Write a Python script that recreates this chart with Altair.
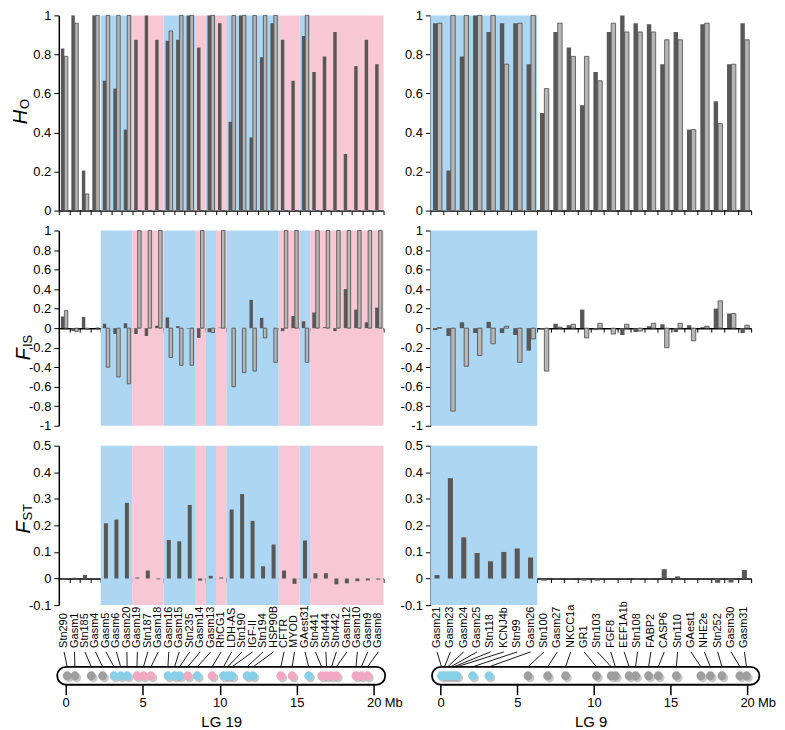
import altair as alt
import pandas as pd

# ---------------- data: LG 19 ----------------
lg19_markers = ["Stn290", "Gasm1", "Stn185", "Gasm4", "Gasm5", "Gasm6", "Gasm20", "Gasm19",
                "Stn187", "Gasm18", "Gasm16", "Gasm15", "Stn235", "Gasm14", "Gasm13", "RhCG1",
                "LDH-AS", "Stn190", "IGF-II", "Stn194", "HSP90B", "CFTR", "MYOD", "GAest31",
                "Stn441", "Stn444", "Stn442", "Gasm12", "Gasm10", "Gasm9", "Gasm8"]
lg19_group = ["n", "n", "n", "n", "b", "b", "b", "p", "p", "p", "b", "b", "b", "p", "b", "p",
              "b", "b", "b", "b", "b", "p", "p", "b", "p", "p", "p", "p", "p", "p", "p"]
lg19_mb = [0.1, 0.6, 1.66, 2.4, 3.14, 3.57, 3.99, 4.63, 5.05, 5.54, 6.64, 7.07, 7.39, 7.92,
           8.55, 9.51, 10.25, 10.52, 10.8, 11.78, 12.17, 13.97, 14.71, 15.78, 16.62, 16.94,
           17.26, 17.58, 18.85, 19.2, 19.6]
lg19_ho_dark = [0.83, 1.0, 0.205, 1.0, 0.665, 0.625, 0.415, 0.875, 1.0, 0.875, 0.87, 0.875,
                1.0, 0.835, 1.0, 0.96, 0.455, 1.0, 0.375, 0.785, 0.96, 0.875, 0.665, 0.895,
                0.71, 0.79, 0.915, 0.29, 0.74, 0.875, 0.75]
lg19_ho_light = [0.79, 0.96, 0.085, 1.0, 1.0, 1.0, 1.0, 0.0, 0.0, 0.0, 0.92, 1.0, 1.0, 0.0,
                 1.0, 0.0, 1.0, 1.0, 1.0, 1.0, 1.0, 0.0, 0.0, 1.0, 0.0, 0.0, 0.0, 0.0, 0.0,
                 0.0, 0.0]
lg19_fis_dark = [0.12, -0.03, 0.115, 0.0, 0.045, -0.06, 0.05, -0.06, -0.08, 0.025, 0.11, 0.02,
                 -0.005, -0.1, -0.04, 0.005, 0.0, 0.0, 0.29, 0.105, 0.0, -0.03, 0.125, 0.07,
                 0.16, 0.01, -0.03, 0.4, 0.19, 0.06, 0.21]
lg19_fis_light = [0.18, -0.035, -0.01, 0.0, -0.4, -0.5, -0.57, 1.0, 1.0, 1.0, -0.3, -0.38,
                  -0.38, 1.0, -0.045, 1.0, -0.6, -0.455, -0.44, -0.1, -0.35, 1.0, 1.0, -0.35,
                  1.0, 1.0, 1.0, 1.0, 1.0, 1.0, 1.0]
lg19_fst = [-0.005, 0.003, 0.013, 0.0, 0.208, 0.222, 0.285, 0.004, 0.03, -0.003, 0.145, 0.14,
            0.277, -0.008, 0.01, 0.004, 0.26, 0.318, 0.217, 0.046, 0.128, 0.03, -0.02, 0.143,
            0.02, 0.02, -0.022, -0.018, -0.01, -0.007, -0.004]
lg19_extent = [-0.55, 20.75]

# ---------------- data: LG 9 ----------------
lg9_markers = ["Gasm21", "Gasm23", "Gasm24", "Gasm25", "Stn118", "KCNJ4b", "Stn99", "Gasm26",
               "Stn100", "Gasm27", "NKCC1a", "GR1", "Stn103", "FGF8", "EEF1A1b", "Stn108",
               "FABP2", "CASP6", "Stn110", "GAest1", "NHE2e", "Stn252", "Gasm30", "Gasm31"]
lg9_group = ["b", "b", "b", "b", "b", "b", "b", "b", "n", "n", "n", "n", "n", "n", "n", "n",
             "n", "n", "n", "n", "n", "n", "n", "n"]
lg9_mb = [0.05, 0.25, 0.45, 0.65, 0.85, 1.05, 2.08, 3.15, 5.7, 6.98, 8.15, 10.17, 11.13, 11.4,
          12.3, 12.72, 13.57, 14.2, 15.38, 16.98, 17.6, 18.36, 19.53, 19.96]
lg9_ho_dark = [0.96, 0.205, 0.79, 1.0, 0.915, 0.96, 0.96, 0.75, 0.5, 0.915, 0.835, 0.54, 0.71,
               0.915, 1.0, 0.96, 0.955, 0.75, 0.915, 0.415, 0.955, 0.56, 0.75, 0.96]
lg9_ho_light = [0.96, 1.0, 1.0, 1.0, 1.0, 0.75, 0.96, 1.0, 0.625, 0.96, 0.79, 0.79, 0.665,
                0.96, 0.915, 0.915, 0.915, 0.875, 0.875, 0.415, 0.96, 0.445, 0.75, 0.875]
lg9_fis_dark = [-0.02, -0.08, 0.06, -0.05, 0.065, -0.05, -0.07, -0.23, -0.01, 0.045, 0.03,
                0.19, -0.02, 0.0, -0.07, -0.04, 0.02, 0.04, -0.04, 0.03, 0.01, 0.2, 0.15, -0.05]
lg9_fis_light = [0.005, -0.85, -0.39, -0.28, -0.16, 0.02, -0.35, -0.11, -0.44, 0.01, 0.04,
                 -0.1, 0.05, -0.06, 0.04, -0.03, 0.05, -0.2, 0.05, -0.13, 0.02, 0.28, 0.15, 0.03]
lg9_fst = [0.013, 0.378, 0.155, 0.096, 0.065, 0.1, 0.113, 0.079, -0.008, -0.003, 0.002, -0.008,
           -0.008, 0.0, 0.002, -0.004, -0.002, 0.035, 0.008, 0.0, 0.0, -0.016, -0.015, 0.032]
lg9_extent = [-0.57, 20.8]

ho_ticks = [0, 0.2, 0.4, 0.6, 0.8, 1]
fis_ticks = [-1, -0.8, -0.6, -0.4, -0.2, 0, 0.2, 0.4, 0.6, 0.8, 1]
fst_ticks = [-0.1, 0, 0.1, 0.2, 0.3, 0.4, 0.5]
mb_ticks = [0, 5, 10, 15, 20]

# ---------------- styles ----------------
BG = {"b": "#acd6f1", "p": "#f8c7d5"}
CIRC = {"n": "#9e9e9e", "b": "#88cfe8", "p": "#f2a8c3"}
DARK = "#585858"
LIGHT = "#b6b6b6"
FONT = "Liberation Sans"

H_HO, H_FIS, H_FST, H_CHR = 196, 196, 160, 60
W19, W9 = 326, 322


def runs(groups):
    out = []
    start = 0
    for i in range(1, len(groups) + 1):
        if i == len(groups) or groups[i] != groups[start]:
            if groups[start] != "n":
                out.append({"start": start, "end": i, "col": BG[groups[start]]})
            start = i
    return pd.DataFrame(out)


def bar_panel(df, reg, n, width, height, col_a, col_b, ydom, yvals, zero_frac, titles=None):
    xscale = alt.Scale(domain=[0, n], nice=False, zero=False)
    xaxis = alt.Axis(values=list(range(n + 1)), labels=False, title=None, grid=False,
                     tickSize=4, tickWidth=1, tickColor="black", domainColor="black",
                     domainWidth=1.5, offset=-height * zero_frac)
    yscale = alt.Scale(domain=ydom, nice=False, zero=False)
    yaxis = alt.Axis(values=yvals, labelExpr="'' + datum.value", title=None, grid=False,
                     tickSize=5, tickWidth=1, tickColor="black", domainColor="black",
                     domainWidth=1.5, labelFontSize=13, labelColor="black", labelPadding=3)
    layers = []
    bg = alt.Chart(reg).mark_rect().encode(
        x=alt.X("start:Q", scale=xscale, axis=xaxis),
        x2="end:Q",
        y=alt.value(0), y2=alt.value("height"),
        color=alt.Color("col:N", scale=None))
    layers.append(bg)
    if col_b is None:
        single = alt.Chart(df).transform_calculate(
            xa="datum.pos + 0.31", xb="datum.pos + 0.69", zero="0").mark_bar(
            color=DARK).encode(
            x=alt.X("xa:Q", scale=xscale, axis=xaxis), x2="xb:Q",
            y=alt.Y(f"{col_a}:Q", scale=yscale, axis=yaxis), y2="zero:Q")
        layers.append(single)
    else:
        dark = alt.Chart(df).transform_calculate(
            xa="datum.pos + 0.2", xb="datum.pos + 0.53", zero="0").mark_bar(
            color=DARK).encode(
            x=alt.X("xa:Q", scale=xscale, axis=xaxis), x2="xb:Q",
            y=alt.Y(f"{col_a}:Q", scale=yscale, axis=yaxis), y2="zero:Q")
        light = alt.Chart(df).transform_calculate(
            xa="datum.pos + 0.53", xb="datum.pos + 0.86", zero="0").mark_bar(
            fill=LIGHT, stroke="#4a4a4a", strokeWidth=0.8).encode(
            x=alt.X("xa:Q", scale=xscale, axis=xaxis), x2="xb:Q",
            y=alt.Y(f"{col_b}:Q", scale=yscale, axis=yaxis), y2="zero:Q")
        layers += [dark, light]
    if titles is not None:
        main, sub, mx, my, sx, sy = titles
        t1 = alt.Chart(pd.DataFrame({"t": [main]})).mark_text(
            angle=270, align="center", baseline="middle", fontSize=20, fontStyle="italic",
            color="black").encode(text="t:N", x=alt.value(mx), y=alt.value(my))
        t2 = alt.Chart(pd.DataFrame({"t": [sub]})).mark_text(
            angle=270, align="left", baseline="middle", fontSize=13,
            color="black").encode(text="t:N", x=alt.value(sx), y=alt.value(sy))
        layers += [t1, t2]
    return alt.layer(*layers).properties(width=width, height=height)


def chrom_panel(markers, groups, mb, extent, d0, d1, width, height, title):
    n = len(markers)
    xs = alt.Scale(domain=[d0, d1], nice=False, zero=False)
    xax = alt.Axis(values=mb_ticks, title=title, domain=False, grid=False, tickSize=10,
                   tickWidth=1.5, tickColor="black", labelFontSize=13, labelPadding=2,
                   labelColor="black", titleFontSize=15, titleFontWeight="normal",
                   titlePadding=5, titleColor="black", format="d")
    df = pd.DataFrame({"m": markers, "mb": mb, "i": list(range(n)),
                       "col": [CIRC[g] for g in groups]})
    df["lab"] = d0 + (df["i"] + 0.5) / n * (d1 - d0)
    df["mbs"] = df["mb"] + 0.12
    ext = pd.DataFrame({"s": [extent[0]], "e": [extent[1]]})
    top = height - 18
    outline = alt.Chart(ext).mark_rect(fill="white", stroke="black", strokeWidth=1.8,
                                       cornerRadius=9).encode(
        x=alt.X("s:Q", scale=xs, axis=xax), x2="e:Q",
        y=alt.value(top), y2=alt.value(height))
    shadow = alt.Chart(df).mark_circle(size=80, opacity=0.55, color="#9a9a9a").encode(
        x=alt.X("mbs:Q", scale=xs, axis=xax), y=alt.value(top + 11))
    circles = alt.Chart(df).mark_circle(size=80, opacity=1).encode(
        x=alt.X("mb:Q", scale=xs, axis=xax), y=alt.value(top + 9),
        color=alt.Color("col:N", scale=None))
    leaders = alt.Chart(df).mark_rule(color="black", strokeWidth=0.9).encode(
        x=alt.X("lab:Q", scale=xs, axis=xax), x2="mb:Q",
        y=alt.value(27), y2=alt.value(top))
    labels = alt.Chart(df).mark_text(angle=270, align="left", baseline="middle",
                                     fontSize=11, color="black").encode(
        x=alt.X("lab:Q", scale=xs, axis=xax), y=alt.value(23), text="m:N")
    unit = alt.Chart(pd.DataFrame({"v": [mb_ticks[-1]], "t": ["Mb"]})).mark_text(
        align="left", baseline="top", fontSize=13, dx=11, color="black").encode(
        x=alt.X("v:Q", scale=xs, axis=xax), y=alt.value(height + 12), text="t:N")
    return alt.layer(outline, leaders, shadow, circles, labels, unit).properties(
        width=width, height=height)


def column(markers, groups, mb, extent, ho_a, ho_b, fis_a, fis_b, fst, width, d0, d1,
           title, with_titles):
    n = len(markers)
    df = pd.DataFrame({"pos": list(range(n)), "ho_a": ho_a, "ho_b": ho_b,
                       "fis_a": fis_a, "fis_b": fis_b, "fst": fst})
    reg = runs(groups)
    t_ho = ("H", "O", -38, 102, -34, 94) if with_titles else None
    t_fis = ("F", "IS", -35, 124, -31, 117) if with_titles else None
    t_fst = ("F", "ST", -35, 82, -31, 75) if with_titles else None
    ho = bar_panel(df, reg, n, width, H_HO, "ho_a", "ho_b", [0, 1], ho_ticks, 0.0, t_ho)
    fis = bar_panel(df, reg, n, width, H_FIS, "fis_a", "fis_b", [-1, 1], fis_ticks, 0.5, t_fis)
    fstp = bar_panel(df, reg, n, width, H_FST, "fst", None, [-0.1, 0.5], fst_ticks,
                     1.0 / 6.0, t_fst)
    chrom = chrom_panel(markers, groups, mb, extent, d0, d1, width, H_CHR, title)
    return [ho, fis, fstp, chrom]


c19 = column(lg19_markers, lg19_group, lg19_mb, lg19_extent, lg19_ho_dark, lg19_ho_light,
             lg19_fis_dark, lg19_fis_light, lg19_fst, W19, -0.446, 20.64, "LG 19", True)
c9 = column(lg9_markers, lg9_group, lg9_mb, lg9_extent, lg9_ho_dark, lg9_ho_light,
            lg9_fis_dark, lg9_fis_light, lg9_fst, W9, -0.676, 20.26, "LG 9", False)

panels = []
for a, b in zip(c19, c9):
    panels += [a, b]

chart = alt.concat(*panels, columns=2, spacing={"row": 20, "column": 47},
                   bounds="flush").properties(
    padding={"left": 3, "top": 0, "right": 0, "bottom": 0}
).configure_view(stroke=None).configure_axis(
    labelFont=FONT, titleFont=FONT
).configure_text(font=FONT)

chart.save("out.html", embed_options={"renderer": "svg", "actions": False})
